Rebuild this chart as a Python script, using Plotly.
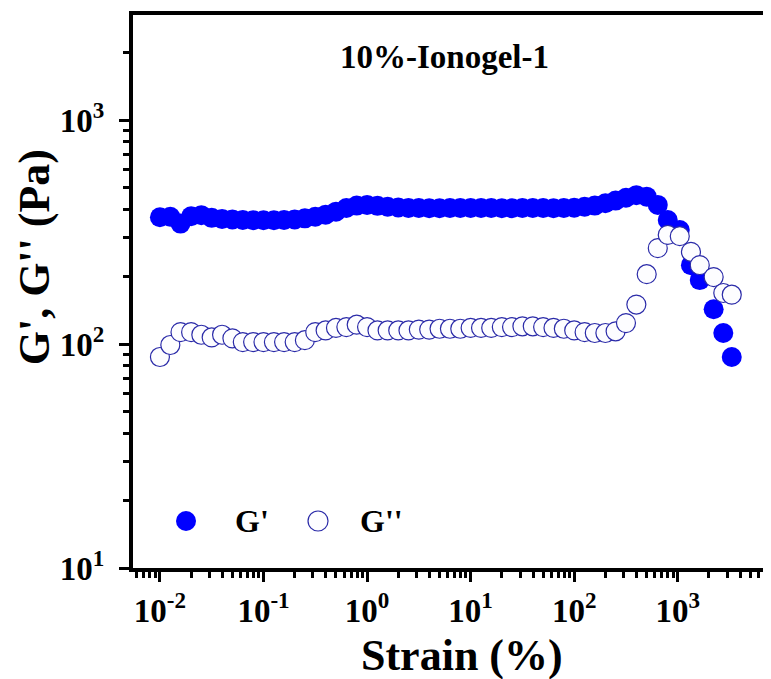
import plotly.graph_objects as go

# strain sweep, 10%-Ionogel-1
strain = [0.01, 0.0126, 0.0158, 0.0200, 0.0251, 0.0316, 0.0398, 0.0501, 0.0631, 0.0794,
          0.1, 0.126, 0.158, 0.200, 0.251, 0.316, 0.398, 0.501, 0.631, 0.794,
          1.0, 1.26, 1.58, 2.00, 2.51, 3.16, 3.98, 5.01, 6.31, 7.94,
          10.0, 12.6, 15.8, 20.0, 25.1, 31.6, 39.8, 50.1, 63.1, 79.4,
          100, 126, 158, 200, 251, 316, 398, 501, 641, 800,
          1045, 1340, 1630, 2220, 2750, 3320]

g_storage = [368, 370, 345, 372, 376, 366, 362, 360, 358, 357,
             357, 357, 358, 360, 364, 370, 378, 390, 405, 415,
             418, 414, 410, 407, 405, 405, 404, 404, 405, 405,
             405, 405, 405, 404, 404, 405, 405, 405, 404, 405,
             406, 410, 415, 425, 437, 450, 462, 455, 418, 358,
             323, 225, 193, 143, 112, 87.5]

g_loss = [87.5, 99, 113, 113, 110, 107, 110, 106, 102, 102,
          102, 102, 102, 102, 104, 113, 115, 118, 119, 122,
          119, 115, 115, 115, 115, 116, 116, 117, 117, 117,
          118, 118, 118, 119, 119, 120, 120, 119, 118, 117,
          115, 113, 112, 112, 114, 124, 150, 205, 268, 307,
          303, 258, 225, 199, 169, 166]

x_tickvals = [0.01, 0.1, 1, 10, 100, 1000]
x_ticktext = ["10<sup>-2</sup>", "10<sup>-1</sup>", "10<sup>0</sup>",
              "10<sup>1</sup>", "10<sup>2</sup>", "10<sup>3</sup>"]
y_tickvals = [10, 100, 1000]
y_ticktext = ["10<sup>1</sup>", "10<sup>2</sup>", "10<sup>3</sup>"]

FONT = "Liberation Serif"
BLUE = "#0000ff"

fig = go.Figure()
fig.add_trace(go.Scatter(x=strain, y=g_storage, mode="markers", name="G'",
                         marker=dict(size=20, color=BLUE, line=dict(width=0))))
fig.add_trace(go.Scatter(x=strain, y=g_loss, mode="markers", name="G''",
                         marker=dict(size=19, color="#fdfdff",
                                     line=dict(width=1.2, color="#2a2aa8"))))

axis_common = dict(
    type="log", automargin=False,
    showline=True, linewidth=4, linecolor="black",
    ticks="outside", ticklen=10, tickwidth=3, tickcolor="black",
    tickfont=dict(family=FONT, size=33, color="black", weight="bold"),
    showgrid=False, zeroline=False,
    minor=dict(ticks="outside", ticklen=6, tickwidth=2.5, tickcolor="black",
               dtick="D1", showgrid=False),
)

fig.update_xaxes(range=[-2.26, 3.90], mirror=True, ticklabelstandoff=0,
                 tickvals=x_tickvals, ticktext=x_ticktext, **axis_common)
fig.update_yaxes(range=[1, 3.469], mirror=False, ticklabelstandoff=8,
                 tickvals=y_tickvals, ticktext=y_ticktext, **axis_common)

# page body has an 8px margin, so the margins are shifted to compensate
fig.update_layout(
    width=771, height=679,
    margin=dict(l=125, r=8, t=7, b=119),
    plot_bgcolor="white", paper_bgcolor="white",
    showlegend=False,
)


def label(text, x, y, size, **kw):
    fig.add_annotation(text=text, xref="paper", yref="paper", x=x, y=y,
                       xanchor=kw.pop("xanchor", "center"), yanchor="middle",
                       showarrow=False,
                       font=dict(family=FONT, size=size, color="black", weight="bold"), **kw)


# titles as annotations
label("10%-Ionogel-1", 0.4875, 0.924, 33)
label("Strain (%)", 0.5157, -0.159, 44)
label("G', G'' (Pa)", -0.155, 0.562, 44, textangle=-90)

# legend drawn by hand (bigger symbols than plotly legend allows)
fig.add_shape(type="circle", xref="paper", yref="paper", xsizemode="pixel", ysizemode="pixel",
              xanchor=0.0831, yanchor=0.085, x0=-10, x1=10, y0=-10, y1=10,
              fillcolor=BLUE, line=dict(width=0))
fig.add_shape(type="circle", xref="paper", yref="paper", xsizemode="pixel", ysizemode="pixel",
              xanchor=0.29, yanchor=0.085, x0=-10, x1=10, y0=-10, y1=10,
              fillcolor="#fdfdff", line=dict(width=1.2, color="#2a2aa8"))
label("G'", 0.1567, 0.085, 32, xanchor="left")
label("G''", 0.3527, 0.085, 32, xanchor="left")

fig.write_html("out.html")
